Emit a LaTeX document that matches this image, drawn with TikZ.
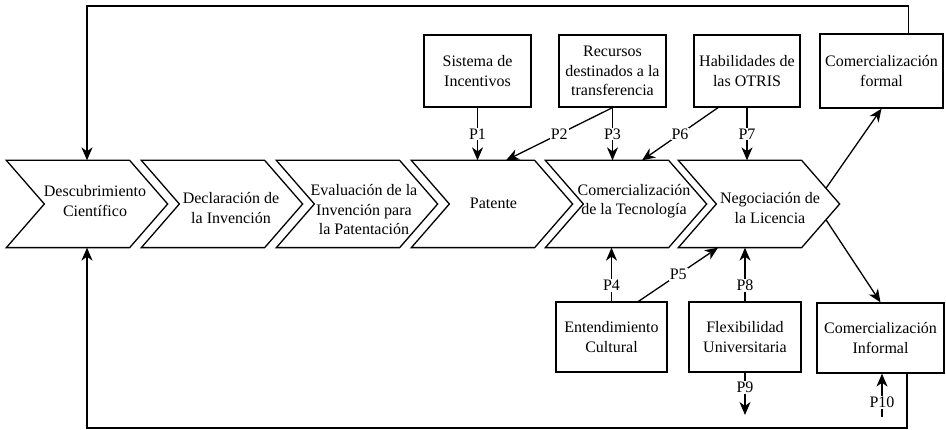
\documentclass[tikz,border=0pt]{standalone}
\usepackage{fontspec}
\setmainfont{Liberation Serif}
\usetikzlibrary{arrows.meta,calc}
\begin{document}
\begin{tikzpicture}[x=1pt, y=-1pt, line width=1.3pt,
    every node/.style={font=\fontsize{16}{19.5}\selectfont, align=center},
    chev/.style={minimum width=160pt, minimum height=86pt, inner sep=0pt},
    box/.style={draw, minimum height=72pt, inner sep=2pt},
    arr/.style={-{Stealth[length=13pt,width=11pt,inset=4pt]}},
    lbl/.style={fill=white, inner sep=1pt}]
    \useasboundingbox (0,0) rectangle (946,430);
    % process chain
    \node[chev, label={[xshift=8pt,yshift=3pt]center:{Descubrimiento\\Científico}}] (desc) at (87,204) {};
    \node[chev, label={[xshift=9pt,yshift=-4pt]center:{Declaración de\\la Invención}}] (decl) at (222,204) {};
    \node[chev, label={[xshift=7pt,yshift=-6pt]center:{Evaluación de la\\Invención para\\la Patentación}}] (eval) at (357,204) {};
    \node[chev, label={[xshift=1.5pt,yshift=1pt]center:Patente}] (pat) at (492,204) {};
    \node[chev, label={[xshift=8pt,yshift=3pt]center:{Comercialización\\de la Tecnología}}] (com) at (626,204) {};
    \node[chev, label={[xshift=11pt,yshift=-4pt]center:{Negociación de\\la Licencia}}] (neg) at (759,204) {};
    \foreach \n in {desc,decl,eval,pat,com,neg}
        \draw (\n.north west) -- ([xshift=-38pt]\n.north east) -- (\n.east)
            -- ([xshift=-38pt]\n.south east) -- (\n.south west)
            -- ([xshift=38pt]\n.west) -- cycle;
    % factors
    \node[box, minimum width=107pt] (inc) at (477.5,71) {Sistema de\\Incentivos};
    \node[box, minimum width=107pt] (rec) at (612.5,71) {Recursos\\destinados a la\\transferencia};
    \node[box, minimum width=106pt] (hab) at (747,71) {Habilidades de\\las OTRIS};
    \node[box, minimum width=123pt, minimum height=74pt] (for) at (881.5,71) {Comercialización\\formal};
    \node[box, minimum width=111pt, minimum height=70pt] (ent) at (611.5,337) {Entendimiento\\Cultural};
    \node[box, minimum width=112pt, minimum height=70pt] (flex) at (745,337) {Flexibilidad\\Universitaria};
    \node[box, minimum width=127pt, minimum height=70pt] (inf) at (880.5,338) {Comercialización\\Informal};
    \coordinate (topline) at (0,6);
    \coordinate (botline) at (0,428);
    \coordinate (p9end) at (745,415);
    \coordinate (p10start) at (882,417);
    % hypotheses
    \draw[arr] (inc.south) -- node[lbl]{P1} (inc.south |- pat.north);
    \draw[arr] (rec.south) -- node[lbl]{P2} ([xshift=14pt]pat.north);
    \draw[arr] (rec.south) -- node[lbl]{P3} (rec.south |- com.north);
    \draw[arr] ([xshift=-29pt]hab.south) -- node[lbl]{P6} ([xshift=16pt]com.north);
    \draw[arr] (hab.south) -- node[lbl]{P7} (hab.south |- neg.north);
    \draw[arr] (ent.north) -- node[lbl,pos=0.3]{P4} (ent.north |- com.south);
    \draw[arr] ([xshift=27pt]ent.north) -- node[lbl]{P5} ([xshift=-41pt]neg.south);
    \draw[arr] (flex.north) -- node[lbl,pos=0.3]{P8} (flex.north |- neg.south);
    \draw[arr] (flex.south) -- node[lbl,pos=0.35]{P9} (p9end);
    \draw[arr] (p10start) -- node[lbl,pos=0.34]{P10} (p10start |- inf.south);
    \draw[arr] ($(neg.east)!0.36!([xshift=-38pt]neg.north east)$) -- (for.south);
    \draw[arr] ($(neg.east)!0.36!([xshift=-38pt]neg.south east)$) -- (inf.north);
    % feedback loops
    \draw[arr] ([xshift=27pt]for.north) -- ([xshift=27pt]for.north |- topline) -| (desc.north);
    \draw[arr] ([xshift=26.5pt]inf.south) -- ([xshift=26.5pt]inf.south |- botline) -| (desc.south);
\end{tikzpicture}
\end{document}
